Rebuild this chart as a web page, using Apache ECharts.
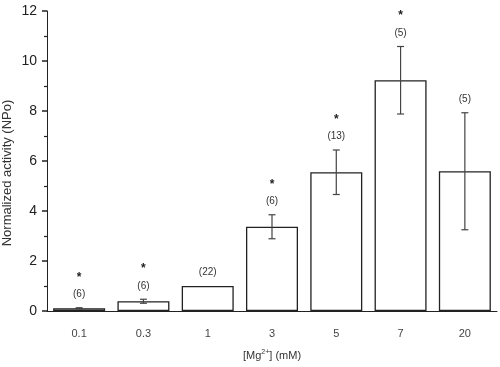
<!DOCTYPE html>
<html><head><meta charset="utf-8">
<script src="https://cdn.jsdelivr.net/npm/echarts@6/dist/echarts.min.js"></script>
<style>html,body{margin:0;padding:0;background:#fff}#c{width:500px;height:367px}</style>
</head><body><div id="c"></div>
<script>
var categories = ['0.1','0.3','1','3','5','7','20'];
var means = [0.11, 0.39, 1.0, 3.37, 5.55, 9.23, 5.59];
var errors = [0.02, 0.08, 0, 0.48, 0.89, 1.35, 2.34];
var nLabels = ['(6)','(6)','(22)','(6)','(13)','(5)','(5)'];
var significant = [true, true, false, true, true, true, false];
var yTicks = [0,2,4,6,8,10,12];

var font = '"Liberation Sans", Arial, sans-serif';
var chart = echarts.init(document.getElementById('c'), null, {renderer:'canvas'});
var errData = means.map(function(m,i){return [i, m, errors[i]];});
chart.setOption({
  animation:false,
  grid:{left:47, right:3, top:11, bottom:56, containLabel:false, outerBoundsMode:'none'},
  xAxis:{
    type:'category', data:categories,
    axisLine:{lineStyle:{color:'#222', width:1}},
    axisTick:{alignWithLabel:true, length:5, inside:false, lineStyle:{color:'#222', width:1.5}},
    axisLabel:{color:'#444', fontSize:11, fontFamily:font, margin:17},
    name:'[Mg{sup|2+}] (mM)', nameLocation:'middle', nameGap:38, nameMoveOverlap:false,
    nameTextStyle:{color:'#333', fontSize:11, fontFamily:font,
      rich:{sup:{fontSize:7, verticalAlign:'top', padding:[0,0,6,0], fontFamily:font, color:'#333'}}}
  },
  yAxis:{
    type:'value', min:0, max:12, interval:2,
    axisLine:{show:true, lineStyle:{color:'#222', width:1}},
    axisTick:{show:true, length:5, lineStyle:{color:'#222', width:1.5}},
    minorTick:{show:true, splitNumber:2, length:3, lineStyle:{color:'#222', width:1.2}},
    splitLine:{show:false},
    axisLabel:{color:'#222', fontSize:14, fontFamily:font, margin:10,
      formatter:function(v){return yTicks.indexOf(v)>=0 ? String(v) : '';}},
    name:'Normalized activity (NPo)', nameLocation:'middle', nameGap:33, nameMoveOverlap:false,
    nameTextStyle:{color:'#333', fontSize:13, fontFamily:font, padding:[0,24,0,0]}
  },
  series:[
    {type:'bar', data:means, barWidth:52,
     itemStyle:{color:'#fff', borderColor:'#222', borderWidth:1.3}},
    {type:'custom', data:errData, z:10,
     renderItem:function(params, api){
       var i = api.value(0), m = api.value(1), e = api.value(2);
       var top = api.coord([i, m+e]);
       var bot = api.coord([i, m-e]);
       var x = top[0];
       var children = [];
       var style = {stroke:'#444', lineWidth:1.2};
       if (e > 0) {
         children.push({type:'line', shape:{x1:x,y1:top[1],x2:x,y2:bot[1]}, style:style});
         children.push({type:'line', shape:{x1:x-3.5,y1:top[1],x2:x+3.5,y2:top[1]}, style:style});
         children.push({type:'line', shape:{x1:x-3.5,y1:bot[1],x2:x+3.5,y2:bot[1]}, style:style});
       }
       var ly = top[1] - 13.5;
       children.push({type:'text', style:{text:nLabels[params.dataIndex], x:x, y:ly,
         align:'center', verticalAlign:'middle', fill:'#333', font:'10px '+font}});
       if (significant[params.dataIndex]) {
         children.push({type:'text', style:{text:'*', x:x, y:ly-17,
           align:'center', verticalAlign:'middle', fill:'#222', font:'bold 12px '+font}});
       }
       return {type:'group', children:children};
     }}
  ]
});
</script></body></html>
